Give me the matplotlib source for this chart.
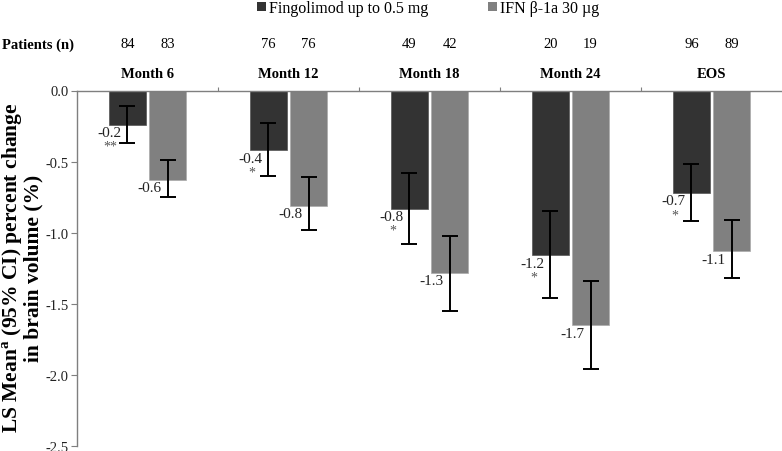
import numpy as np
import matplotlib
matplotlib.use('Agg')
import matplotlib.pyplot as plt
from matplotlib.patches import Patch
from matplotlib.transforms import blended_transform_factory

plt.rcParams['font.family'] = ['Liberation Serif', 'DejaVu Serif']
plt.rcParams['mathtext.fontset'] = 'custom'
plt.rcParams['mathtext.rm'] = 'Liberation Serif'
plt.rcParams['mathtext.bf'] = 'Liberation Serif:bold'

# данные
categories = ['Month 6', 'Month 12', 'Month 18', 'Month 24', 'EOS']
n_fingo = [84, 76, 49, 20, 96]
n_ifn = [83, 76, 42, 19, 89]
fingo_mean = [-0.24, -0.42, -0.83, -1.16, -0.72]
fingo_lo = [-0.37, -0.61, -1.08, -1.47, -0.92]
fingo_hi = [-0.11, -0.24, -0.58, -0.86, -0.52]
ifn_mean = [-0.63, -0.81, -1.28, -1.65, -1.13]
ifn_lo = [-0.77, -1.01, -1.54, -1.96, -1.35]
ifn_hi = [-0.51, -0.64, -1.01, -1.34, -0.94]
fingo_labels = ['-0.2', '-0.4', '-0.8', '-1.2', '-0.7']
ifn_labels = ['-0.6', '-0.8', '-1.3', '-1.7', '-1.1']
stars = ['**', '*', '*', '*', '*']
yticks = [0.0, -0.5, -1.0, -1.5, -2.0, -2.5]

dark = '#333333'
light = '#808080'
axis_col = '#7f7f7f'


def plot():
	fig = plt.figure(figsize=(7.82, 4.52), dpi=100)
	ax = fig.add_axes([77 / 782, 5 / 452, 1 - 77 / 782, (447 - 91.5) / 452])

	x = np.arange(len(categories))
	w = 0.26
	off = 0.142

	def err(mean, lo, hi):
		mean = np.array(mean)
		return [np.array(hi) - mean, mean - np.array(lo)]

	ax.bar(x - off, fingo_mean, w, color=dark, edgecolor='#555555', linewidth=0.5)
	ax.bar(x + off, ifn_mean, w, color=light, edgecolor='#aaaaaa', linewidth=0.5)
	ax.errorbar(x - off, fingo_mean, yerr=err(fingo_mean, fingo_lo, fingo_hi), fmt='none',
				ecolor='black', elinewidth=1.4, capsize=6, capthick=1.4)
	ax.errorbar(x + off, ifn_mean, yerr=err(ifn_mean, ifn_lo, ifn_hi), fmt='none',
				ecolor='black', elinewidth=1.4, capsize=6, capthick=1.4)

	# подписи значений
	for i in range(len(categories)):
		ax.annotate(fingo_labels[i], (x[i] - off, fingo_mean[i]), xytext=(-4, -1),
					textcoords='offset points', ha='right', va='top', fontsize=11, color='#222222')
		ax.annotate(stars[i], (x[i] - off, fingo_mean[i]), xytext=(-12, -11),
					textcoords='offset points', ha='center', va='top', fontsize=10, color='#555555')
		ax.annotate(ifn_labels[i], (x[i] + off, ifn_mean[i]), xytext=(-4, -1),
					textcoords='offset points', ha='right', va='top', fontsize=11, color='#222222')

	ax.set_xlim(-0.5, len(categories) - 0.5)
	ax.set_ylim(-2.5, 0)
	ax.set_yticks(yticks)
	ax.set_yticklabels([f'{v:.1f}' for v in yticks], fontsize=10.5, color='#222222')
	ax.tick_params(axis='y', direction='out', length=4, color=axis_col, pad=2)
	ax.xaxis.tick_top()
	ax.set_xticks(np.arange(len(categories) - 1) + 0.5)
	ax.set_xticklabels([])
	ax.tick_params(axis='x', direction='out', length=3, color=axis_col)
	for s in ['right', 'bottom']:
		ax.spines[s].set_visible(False)
	for s in ['left', 'top']:
		ax.spines[s].set_color(axis_col)
		ax.spines[s].set_linewidth(1.0)

	# верхние подписи
	tr = blended_transform_factory(ax.transData, fig.transFigure)
	y_n = 1 - 45 / 452
	y_m = 1 - 75 / 452
	fig.text(2 / 782, y_n, 'Patients (n)', ha='left', va='center', fontsize=10.5, fontweight='bold')
	for i in range(len(categories)):
		ax.text(x[i] - off, y_n, str(n_fingo[i]), transform=tr, ha='center', va='center', fontsize=10.5)
		ax.text(x[i] + off, y_n, str(n_ifn[i]), transform=tr, ha='center', va='center', fontsize=10.5)
		ax.text(x[i], y_m, categories[i], transform=tr, ha='center', va='center',
				fontsize=10.5, fontweight='bold')

	fig.text(22 / 782, 1 - 268 / 452,
			 'LS Mean$^{\\mathbf{a}}$ (95% CI) percent change\nin brain volume (%)',
			 rotation=90, ha='center', va='center', multialignment='center',
			 fontsize=15.5, fontweight='bold', linespacing=0.95)

	handles = [Patch(facecolor=dark, edgecolor='none'), Patch(facecolor=light, edgecolor='none')]
	fig.legend(handles, ['Fingolimod up to 0.5 mg', 'IFN β-1a 30 µg'], loc='center',
			   bbox_to_anchor=(428 / 782, 1 - 9 / 452), ncol=2, frameon=False, fontsize=11.5,
			   handlelength=0.55, handleheight=0.55, handletextpad=0.2, columnspacing=3.75,
			   borderpad=0, borderaxespad=0)

	fig.savefig('out.png', dpi=100)


if __name__ == '__main__':
	plot()
